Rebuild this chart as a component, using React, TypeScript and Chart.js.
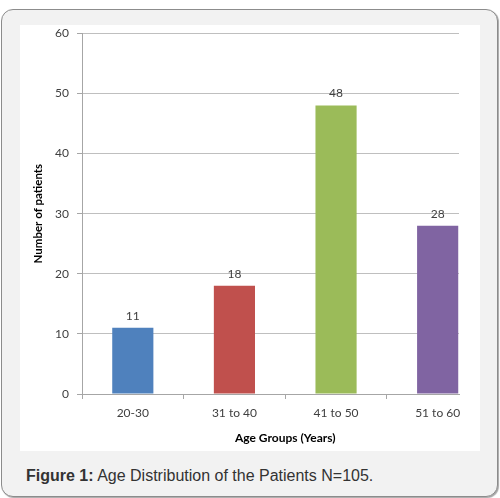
import React, { useEffect, useRef } from "react";
import { Chart, registerables } from "chart.js";

Chart.register(...registerables);

const categories = ["20-30", "31 to 40", "41 to 50", "51 to 60"];
const patients = [11, 18, 48, 28];
const barColors = ["#4f81bd", "#c0504d", "#9bbb59", "#8064a2"];
const yTicks = [0, 10, 20, 30, 40, 50, 60];
const xTitle = "Age Groups (Years)";
const yTitle = "Number of patients";
const captionBold = "Figure 1:";
const captionText = " Age Distribution of the Patients N=105.";
// the original picture is cropped part-way through the last category
const visibleCategorySpan = 3.71;

const AXIS = "#a6a6a6";
const GRID = "#bfbfbf";
const TEXT = "#404040";
const FONT = "Lato";

const valueLabels = {
  id: "valueLabels",
  afterDatasetsDraw(chart: any) {
    const { ctx } = chart;
    const meta = chart.getDatasetMeta(0);
    ctx.save();
    ctx.font = `12px ${FONT}`;
    ctx.fillStyle = TEXT;
    ctx.textAlign = "center";
    ctx.textBaseline = "middle";
    meta.data.forEach((bar: any, i: number) => {
      ctx.fillText(String(patients[i]), bar.x, bar.y - 12);
    });
    ctx.restore();
  },
};

const xTitlePlugin = {
  id: "xTitlePlugin",
  afterDraw(chart: any) {
    const { ctx, chartArea } = chart;
    const xs = chart.scales.x;
    ctx.save();
    ctx.font = `bold 12px ${FONT}`;
    ctx.fillStyle = "#000";
    ctx.textAlign = "center";
    ctx.textBaseline = "middle";
    ctx.fillText(xTitle, xs.getPixelForValue(categories.length / 2), chartArea.bottom + 44);
    ctx.restore();
  },
};

export default function App() {
  const ref = useRef<HTMLCanvasElement>(null);

  useEffect(() => {
    const chart = new Chart(ref.current as HTMLCanvasElement, {
      type: "bar",
      data: {
        datasets: [
          {
            data: patients.map((v, i) => ({ x: i + 0.5, y: v })),
            backgroundColor: barColors,
            borderWidth: 0,
            categoryPercentage: 1,
            barPercentage: 0.81,
          },
        ],
      },
      options: {
        responsive: false,
        animation: false,
        events: [],
        layout: { padding: { top: 8.3, right: 21, bottom: 0, left: 0 } },
        plugins: {
          legend: { display: false },
          tooltip: { enabled: false },
        },
        scales: {
          x: {
            type: "linear",
            offset: false,
            min: 0,
            max: visibleCategorySpan,
            afterBuildTicks: (s: any) => {
              const t: any[] = [];
              for (let i = 0; i < categories.length; i++) {
                t.push({ value: i });
                t.push({ value: i + 0.5 });
              }
              s.ticks = t;
            },
            afterFit: (s: any) => {
              s.height = 57;
            },
            grid: {
              offset: false,
              drawOnChartArea: false,
              tickLength: 5,
              tickColor: (c: any) =>
                c.tick && c.tick.value % 1 === 0 ? AXIS : "rgba(0,0,0,0)",
            },
            border: { color: AXIS },
            ticks: {
              autoSkip: false,
              maxRotation: 0,
              padding: 7,
              color: TEXT,
              font: { family: FONT, size: 12 },
              callback: (v: any) =>
                Number(v) % 1 === 0.5 ? categories[Math.floor(Number(v))] : "",
            },
          },
          y: {
            min: 0,
            max: 60,
            afterBuildTicks: (s: any) => {
              s.ticks = yTicks.map((v) => ({ value: v }));
            },
            afterFit: (s: any) => {
              s.width = 62;
              s.paddingTop = 0;
              s.paddingBottom = 0;
            },
            grid: { color: GRID, tickLength: 5, tickColor: AXIS },
            border: { color: AXIS },
            ticks: {
              color: TEXT,
              padding: 8,
              font: { family: FONT, size: 12 },
            },
            title: {
              display: true,
              text: yTitle,
              color: "#000",
              font: { family: FONT, size: 11.5, weight: "bold" },
              padding: { top: 11, bottom: 0 },
            },
          },
        },
      },
      plugins: [valueLabels, xTitlePlugin],
    } as any);
    return () => chart.destroy();
  }, []);

  return (
    <div
      style={{
        position: "absolute",
        left: 0,
        top: 0,
        width: 500,
        height: 498,
        background: "#fff",
        overflow: "hidden",
      }}
    >
      <div
        style={{
          position: "absolute",
          left: 1,
          top: 9,
          width: 497,
          height: 488,
          boxSizing: "border-box",
          border: "1px solid #8c8c8c",
          borderRadius: 12,
          background: "#f2f2f2",
          boxShadow: "1px 1px 1px rgba(0,0,0,0.35)",
        }}
      />
      <div
        style={{
          position: "absolute",
          left: 20,
          top: 25,
          width: 460,
          height: 426,
          background: "#fff",
        }}
      >
        <canvas ref={ref} width={460} height={426} style={{ display: "block" }} />
      </div>
      <div
        style={{
          position: "absolute",
          left: 26,
          top: 468,
          fontFamily: "'Liberation Sans', Arial, sans-serif",
          fontSize: 16,
          lineHeight: "16px",
          color: "#333",
          whiteSpace: "nowrap",
        }}
      >
        <b>{captionBold}</b>
        {captionText}
      </div>
    </div>
  );
}
